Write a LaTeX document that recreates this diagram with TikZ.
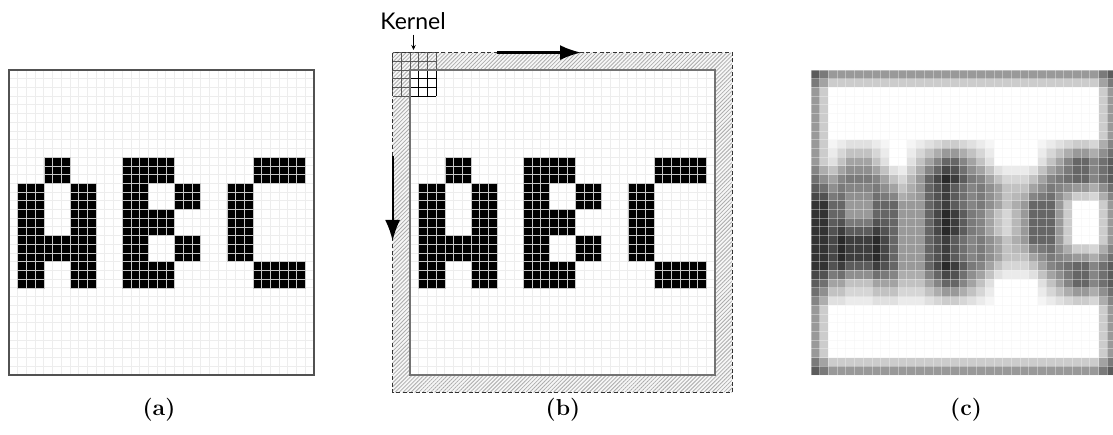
\documentclass[tikz,border=0pt]{standalone}
\usepackage{fontspec}
\newfontfamily\kernfont{Lato}
\usetikzlibrary{arrows.meta,patterns.meta}

% integer helpers for the 5x5 box filter
\newcount\blk \newcount\tot \newcount\ox \newcount\oy
\newcount\lo \newcount\hi
\newcount\wl \newcount\wr \newcount\wt \newcount\wb
% length of the overlap of [#1,#2] and [#3,#4], stored in count #5
\def\ovlap#1#2#3#4#5{%
  \lo=#1\relax \ifnum#3>\lo \lo=#3\relax\fi
  \hi=#2\relax \ifnum#4<\hi \hi=#4\relax\fi
  #5=\numexpr\hi-\lo+1\relax
  \ifnum#5<0 #5=0\relax\fi}

% black pixel blocks of the letters A, B, C: \R{col from}{col to}{row from}{row to}
\def\letters{%
  \R{4}{6}{10}{12}\R{1}{3}{13}{24}\R{7}{9}{13}{24}\R{4}{6}{19}{21}%
  \R{13}{15}{10}{24}\R{16}{18}{10}{12}\R{16}{18}{16}{18}\R{16}{18}{22}{24}%
  \R{19}{21}{13}{15}\R{19}{21}{19}{21}%
  \R{25}{27}{13}{21}\R{28}{33}{10}{12}\R{28}{33}{22}{24}}

% drawing a block as black pixels
\def\Rink#1#2#3#4{\foreach \c in {#1,...,#2}{\foreach \r in {#3,...,#4}{%
  \filldraw[inkcell] (\c,\r) rectangle +(1,1);}}}
% counting the black pixels of a block inside the current window
\def\Rblur#1#2#3#4{\ovlap\wl\wr{#1}{#2}\ox\ovlap\wt\wb{#3}{#4}\oy
  \advance\blk by\numexpr\ox*\oy\relax}

\tikzset{
  gridline/.style={draw=gray!14,line width=0.9pt},
  inkcell/.style={fill=black,draw=gray!45,line width=0.5pt},
  frame/.style={draw=black!68,line width=1.4pt},
  bigarrow/.style={line width=2.2pt,-{Latex[length=21pt,width=15pt]}},
  sublabel/.style={font=\fontsize{23}{27}\selectfont\bfseries},
}

\begin{document}
\begin{tikzpicture}[x=1pt,y=-1pt]
\useasboundingbox (0,0) rectangle (1113,435);
\fill[white] (0,0) rectangle (1113,435);

% (a) input image
\begin{scope}[shift={(9,70)},x=8.714pt,y=-8.714pt]
  \foreach \k in {0,...,35}{\draw[gridline] (\k,0) -- (\k,35); \draw[gridline] (0,\k) -- (35,\k);}
  \let\R\Rink \letters
  \draw[frame] (0,0) rectangle (35,35);
\end{scope}

% (b) zero padded image with the kernel in its start position
\begin{scope}[shift={(410,70)},x=8.714pt,y=-8.714pt]
  \foreach \k in {0,...,35}{\draw[gridline] (\k,0) -- (\k,35); \draw[gridline] (0,\k) -- (35,\k);}
  \let\R\Rink \letters
  \fill[gray!6,even odd rule] (-2,-2) rectangle (37,37) (0,0) rectangle (35,35);
  \fill[pattern={Lines[angle=45,distance=2.8pt,line width=0.8pt]},pattern color=gray!65,even odd rule]
    (-2,-2) rectangle (37,37) (0,0) rectangle (35,35);
  % kernel 5x5, lighter over the padding
  \foreach \k in {-2,...,3}{\draw[gray!70!black,line width=0.7pt] (\k,-2) -- (\k,3); \draw[gray!70!black,line width=0.7pt] (-2,\k) -- (3,\k);}
  \begin{scope}
    \clip (0,0) rectangle (35,35);
    \foreach \k in {-2,...,3}{\draw[black,line width=0.75pt] (\k,-2) -- (\k,3); \draw[black,line width=0.75pt] (-2,\k) -- (3,\k);}
  \end{scope}
  \draw[draw=black!55,line width=1.4pt] (0,0) rectangle (35,35);
  \draw[black!80,line width=0.9pt,dash pattern=on 4pt off 2.6pt] (-2,-2) rectangle (37,37);
\end{scope}

% (c) result of the 5x5 mean filter
\begin{scope}[shift={(811,70)},x=8.714pt,y=-8.714pt]
  \let\R\Rblur
  \foreach \i in {0,...,34}{\foreach \j in {0,...,34}{%
    \wl=\numexpr\i-2\relax \wr=\numexpr\i+2\relax
    \wt=\numexpr\j-2\relax \wb=\numexpr\j+2\relax
    \ovlap\wl\wr{0}{34}\ox \ovlap\wt\wb{0}{34}\oy
    \tot=\numexpr\ox*\oy\relax
    \blk=0
    \letters
    \edef\shade{\the\numexpr 4*(\tot-\blk)\relax}
    \fill[white!\shade!black] (\i,\j) rectangle +(1.02,1.02);
  }}
  \foreach \k in {0,...,35}{\draw[draw=gray!10,line width=0.8pt,opacity=0.4] (\k,0) -- (\k,35); \draw[draw=gray!10,line width=0.8pt,opacity=0.4] (0,\k) -- (35,\k);}
\end{scope}

% kernel label and sliding directions
\node[font=\kernfont\fontsize{23}{27}\selectfont,anchor=base] (kern) at (413,30) {Kernel};
\coordinate (kerntop) at (413.5,50);
\draw[line width=0.8pt,-{Stealth[length=5pt,width=4.5pt]}] (kern.south) ++(0.5,1) -- (kerntop);
\coordinate (rowstart) at (497,52.6);
\coordinate (rowend) at (581,52.6);
\draw[bigarrow] (rowstart) -- (rowend);
\coordinate (colstart) at (392.6,156);
\coordinate (colend) at (392.6,241);
\draw[bigarrow] (colstart) -- (colend);

% sub-figure captions
\node[sublabel] (capa) at (159,410) {(a)};
\node[sublabel] (capb) at (563,410) {(b)};
\node[sublabel] (capc) at (966,410) {(c)};
\end{tikzpicture}
\end{document}
